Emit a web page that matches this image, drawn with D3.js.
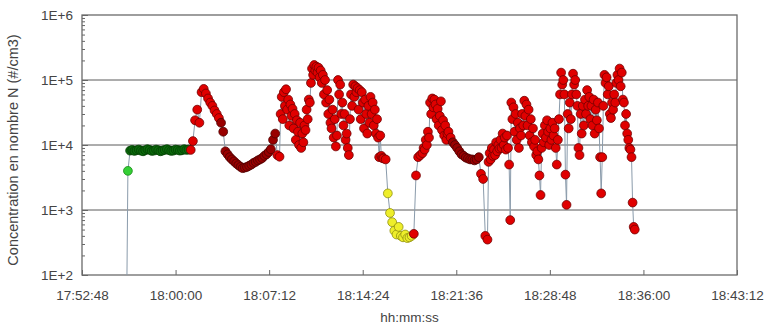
<!DOCTYPE html>
<html>
<head>
<meta charset="utf-8">
<script src="https://cdn.jsdelivr.net/npm/d3@7"></script>
<style>
  body { margin: 0; background: #fff; }
  text { font-family: Arial, "Liberation Sans", sans-serif; }
</style>
</head>
<body>
<svg></svg>
<script>
// Measurement times (hh:mm:ss); faster sampling during the busy stretches
const times = [
  "17:56:10","17:56:20","17:56:30","17:56:40","17:56:50",
  "17:57:00","17:57:10","17:57:20","17:57:30","17:57:40","17:57:50",
  "17:58:00","17:58:10","17:58:20","17:58:30","17:58:40","17:58:50",
  "17:59:00","17:59:10","17:59:20","17:59:30","17:59:40","17:59:50",
  "18:00:00","18:00:10","18:00:20","18:00:30","18:00:40","18:00:50",
  "18:01:00","18:01:10","18:01:20","18:01:30","18:01:40","18:01:50",
  "18:02:00","18:02:10","18:02:20","18:02:30","18:02:40","18:02:50",
  "18:03:00","18:03:10","18:03:20","18:03:30","18:03:40","18:03:50",
  "18:04:00","18:04:10","18:04:20","18:04:30","18:04:40","18:04:50",
  "18:05:00","18:05:10","18:05:20","18:05:30","18:05:40","18:05:50",
  "18:06:00","18:06:10","18:06:20","18:06:30","18:06:40","18:06:50",
  "18:07:00","18:07:10","18:07:20","18:07:30","18:07:40","18:07:50",
  "18:08:00","18:08:05","18:08:10","18:08:15","18:08:20","18:08:25","18:08:30","18:08:35","18:08:40","18:08:45","18:08:50","18:08:55",
  "18:09:00","18:09:05","18:09:10","18:09:15","18:09:20","18:09:25","18:09:30","18:09:35","18:09:40","18:09:45","18:09:50","18:09:55",
  "18:10:00","18:10:05","18:10:10","18:10:15","18:10:20","18:10:25","18:10:30","18:10:35","18:10:40","18:10:45","18:10:50","18:10:55",
  "18:11:00","18:11:05","18:11:10","18:11:15","18:11:20","18:11:25","18:11:30","18:11:35","18:11:40","18:11:45","18:11:50","18:11:55",
  "18:12:00","18:12:05","18:12:10","18:12:15","18:12:20","18:12:25","18:12:30","18:12:35","18:12:40","18:12:45","18:12:50","18:12:55",
  "18:13:00","18:13:05","18:13:10","18:13:15","18:13:20","18:13:25","18:13:30","18:13:35","18:13:40","18:13:45","18:13:50","18:13:55",
  "18:14:00","18:14:05","18:14:10","18:14:15","18:14:20","18:14:25","18:14:30","18:14:35","18:14:40","18:14:45","18:14:50","18:14:55",
  "18:15:00","18:15:05","18:15:10","18:15:15","18:15:20","18:15:25","18:15:30","18:15:35","18:15:40","18:15:45","18:15:50","18:15:55",
  "18:16:00","18:16:10","18:16:20","18:16:30","18:16:40","18:16:50",
  "18:17:00","18:17:10","18:17:20","18:17:30","18:17:40","18:17:50",
  "18:18:00","18:18:10","18:18:20","18:18:30","18:18:40","18:18:50",
  "18:19:00","18:19:05","18:19:10","18:19:15","18:19:20","18:19:25","18:19:30","18:19:35","18:19:40","18:19:45","18:19:50","18:19:55",
  "18:20:00","18:20:05","18:20:10","18:20:15","18:20:20","18:20:25","18:20:30","18:20:35","18:20:40","18:20:45","18:20:50","18:20:55",
  "18:21:00","18:21:10","18:21:20","18:21:30","18:21:40","18:21:50",
  "18:22:00","18:22:10","18:22:20","18:22:30","18:22:40","18:22:50",
  "18:23:00","18:23:10","18:23:20","18:23:30","18:23:40","18:23:50",
  "18:24:00","18:24:05","18:24:10","18:24:15","18:24:20","18:24:25","18:24:30","18:24:35","18:24:40","18:24:45","18:24:50","18:24:55",
  "18:25:00","18:25:05","18:25:10","18:25:15","18:25:20","18:25:25","18:25:30","18:25:35","18:25:40","18:25:45","18:25:50","18:25:55",
  "18:26:00","18:26:05","18:26:10","18:26:15","18:26:20","18:26:25","18:26:30","18:26:35","18:26:40","18:26:45","18:26:50","18:26:55",
  "18:27:00","18:27:05","18:27:10","18:27:15","18:27:20","18:27:25","18:27:30","18:27:35","18:27:40","18:27:45","18:27:50","18:27:55",
  "18:28:00","18:28:05","18:28:10","18:28:15","18:28:20","18:28:25","18:28:30","18:28:35","18:28:40","18:28:45","18:28:50","18:28:55",
  "18:29:00","18:29:05","18:29:10","18:29:15","18:29:20","18:29:25","18:29:30","18:29:35","18:29:40","18:29:45","18:29:50","18:29:55",
  "18:30:00","18:30:05","18:30:10","18:30:15","18:30:20","18:30:25","18:30:30","18:30:35","18:30:40","18:30:45","18:30:50","18:30:55",
  "18:31:00","18:31:05","18:31:10","18:31:15","18:31:20","18:31:25","18:31:30","18:31:35","18:31:40","18:31:45","18:31:50","18:31:55",
  "18:32:00","18:32:05","18:32:10","18:32:15","18:32:20","18:32:25","18:32:30","18:32:35","18:32:40","18:32:45","18:32:50","18:32:55",
  "18:33:00","18:33:05","18:33:10","18:33:15","18:33:20","18:33:25","18:33:30","18:33:35","18:33:40","18:33:45","18:33:50","18:33:55",
  "18:34:00","18:34:05","18:34:10","18:34:15","18:34:20","18:34:25","18:34:30","18:34:35","18:34:40","18:34:45","18:34:50","18:34:55",
  "18:35:00","18:35:05","18:35:10","18:35:15","18:35:20"
];

// Concentration N (#/cm3), same rows as the times above
const conc = [
  1, 4000, 8200, 8400, 8100,
  8300, 8500, 8200, 8000, 8300, 8600,
  8400, 8100, 8200, 8500, 8300, 8000,
  8200, 8400, 8600, 8300, 8100, 8200,
  8500, 8400, 8200, 8300, 8600, 8400,
  8500, 8400, 11500, 24000, 35000, 22000,
  65000, 73000, 62000, 52000, 45000, 40000,
  34000, 30000, 26000, 22000, 16000, 8000,
  7200, 6500, 6000, 5600, 5200, 4900,
  4600, 4400, 4500, 4600, 4800, 5000,
  5300, 5500, 5800, 6000, 6300, 6800,
  7200, 7800, 8600, 12000, 15000, 7000,
  6600, 30000, 55000, 25000, 65000, 40000, 72000, 35000, 50000, 20000, 42000, 28000,
  36000, 18000, 30000, 12000, 24000, 16000, 10000, 22000, 9000, 15000, 11000, 20000,
  17000, 35000, 25000, 50000, 45000, 90000, 150000, 120000, 170000, 140000, 160000, 130000,
  155000, 110000, 140000, 90000, 120000, 60000, 100000, 45000, 70000, 30000, 50000, 22000,
  18000, 35000, 13000, 25000, 9500, 14000, 100000, 60000, 85000, 30000, 45000, 20000,
  30000, 12000, 15000, 9000, 7000, 25000, 60000, 40000, 85000, 55000, 80000, 65000,
  75000, 35000, 70000, 25000, 65000, 45000, 18000, 50000, 30000, 15000, 40000, 22000,
  55000, 30000, 45000, 20000, 35000, 15000, 25000, 13000, 6500, 14000, 6800, 6300,
  6200, 6000, 1800, 900, 650, 480,
  420, 550, 400, 380, 420, 370,
  380, 400, 430, 3400, 6500, 7000,
  7500, 9000, 8500, 12000, 10000, 16000, 13000, 45000, 30000, 52000, 38000, 50000,
  42000, 25000, 36000, 20000, 28000, 47000, 17000, 24000, 14000, 20000, 12000, 15000,
  16000, 13000, 11000, 10000, 9000, 8000,
  7200, 6800, 6400, 6200, 6000, 6000,
  5800, 6000, 6500, 3600, 3000, 400,
  350, 5500, 7500, 6000, 9000, 6800, 8500, 7000, 11000, 8000, 10000, 8800,
  12000, 9000, 15000, 10000, 13000, 8500, 14000, 9000, 5000, 700, 45000, 25000,
  38000, 16000, 30000, 12000, 22000, 9000, 18000, 14000, 30000, 20000, 48000, 28000,
  42000, 20000, 35000, 14000, 25000, 11000, 18000, 9500, 12000, 7000, 8000, 6000,
  3400, 1700, 9000, 15000, 11000, 20000, 13000, 24000, 16000, 10000, 18000, 12000,
  22000, 14000, 18000, 9000, 5000, 12000, 25000, 60000, 130000, 85000, 100000, 60000,
  3500, 1200, 30000, 18000, 45000, 25000, 60000, 125000, 85000, 100000, 60000, 40000,
  9000, 7000, 30000, 15000, 40000, 20000, 50000, 30000, 70000, 40000, 55000, 25000,
  40000, 20000, 50000, 15000, 35000, 24000, 45000, 18000, 6500, 1800, 6500, 40000,
  120000, 90000, 110000, 60000, 80000, 30000, 26000, 45000, 35000, 60000, 45000, 90000,
  120000, 100000, 150000, 80000, 130000, 50000, 45000, 20000, 30000, 15000, 12000, 9000,
  8500, 6500, 1300, 550, 500
];

// Marker category from a given time onwards
const phaseStart = ["17:56:10", "17:56:30", "18:01:10", "18:03:30", "18:07:50", "18:16:20", "18:18:20", "18:21:20", "18:23:30"];
const phaseName  = ["lime", "green", "red", "darkred", "red", "yellow", "red", "darkred", "red"];

const xTickLabels = ["17:52:48", "18:00:00", "18:07:12", "18:14:24", "18:21:36", "18:28:48", "18:36:00", "18:43:12"];
const yTickLabels = ["1E+2", "1E+3", "1E+4", "1E+5", "1E+6"];
const yTickValues = [1e2, 1e3, 1e4, 1e5, 1e6];

const fills   = { lime: "#35cf35", green: "#0b6b0b", red: "#e00000", darkred: "#990000", yellow: "#eeee2a" };
const strokes = { lime: "#178a17", green: "#043d04", red: "#700000", darkred: "#4d0000", yellow: "#8f8f10" };

const W = 770, H = 325;
const margin = { top: 15, right: 33, bottom: 50, left: 82 };
const width = W - margin.left - margin.right,
      height = H - margin.top - margin.bottom;

const parse = d3.timeParse("%H:%M:%S");
const phaseTimes = phaseStart.map(parse);

const data = times.map((t, i) => {
  const time = parse(t);
  let k = d3.bisectRight(phaseTimes, time) - 1;
  return { time: time, value: conc[i], phase: phaseName[Math.max(k, 0)] };
});

const svg = d3.select("svg")
    .attr("width", W)
    .attr("height", H)
  .append("g")
    .attr("transform", `translate(${margin.left},${margin.top})`);

const x = d3.scaleTime()
    .domain([parse(xTickLabels[0]), parse(xTickLabels[xTickLabels.length - 1])])
    .range([0, width]);

const y = d3.scaleLog()
    .domain([1e2, 1e6])
    .range([height, 0]);

svg.append("defs").append("clipPath").attr("id", "plot")
  .append("rect").attr("width", width).attr("height", height);

// Gridlines
svg.append("g")
  .selectAll("line")
  .data(yTickValues.slice(1, -1))
  .join("line")
    .attr("x1", 0).attr("x2", width)
    .attr("y1", d => y(d)).attr("y2", d => y(d))
    .attr("stroke", "#5a5a5a")
    .attr("stroke-width", 1);

// Y axis, ticks pointing inside
const yAxis = svg.append("g")
  .call(d3.axisLeft(y)
    .tickValues(y.ticks())
    .tickSizeInner(-3)
    .tickSizeOuter(0)
    .tickPadding(9)
    .tickFormat(d => {
      const k = yTickValues.indexOf(d);
      return k >= 0 ? yTickLabels[k] : "";
    }));
yAxis.selectAll(".tick line")
  .attr("x2", d => yTickValues.indexOf(d) >= 0 ? 6 : 3)
  .attr("stroke", "#666");

// X axis
const xAxis = svg.append("g")
  .attr("transform", `translate(0,${height})`)
  .call(d3.axisBottom(x)
    .tickValues(xTickLabels.map(parse))
    .tickSizeInner(-5)
    .tickSizeOuter(0)
    .tickPadding(15)
    .tickFormat((d, i) => xTickLabels[i]));
xAxis.selectAll(".tick line").attr("stroke", "#666");

[yAxis, xAxis].forEach(a => {
  a.select(".domain").remove();
  a.selectAll("text").attr("font-size", 13.5).attr("fill", "#444");
});

// Frame
svg.append("rect")
  .attr("width", width)
  .attr("height", height)
  .attr("fill", "none")
  .attr("stroke", "#6a6a6a")
  .attr("stroke-width", 1.3);

// Series
const plot = svg.append("g").attr("clip-path", "url(#plot)");

plot.append("path")
  .datum(data)
  .attr("fill", "none")
  .attr("stroke", "#8a9bab")
  .attr("stroke-width", 1)
  .attr("d", d3.line().x(d => x(d.time)).y(d => y(d.value)));

plot.selectAll("circle")
  .data(data)
  .join("circle")
    .attr("cx", d => x(d.time))
    .attr("cy", d => y(d.value))
    .attr("r", 4.4)
    .attr("fill", d => fills[d.phase])
    .attr("stroke", d => strokes[d.phase])
    .attr("stroke-width", 0.8);

// Axis titles
svg.append("text")
  .attr("x", width / 2)
  .attr("y", height + 47)
  .attr("text-anchor", "middle")
  .attr("font-size", 13.5)
  .attr("fill", "#444")
  .text("hh:mm:ss");

svg.append("text")
  .attr("transform", `translate(${-margin.left + 18},${height / 2 + 5}) rotate(-90)`)
  .attr("text-anchor", "middle")
  .attr("font-size", 14.5)
  .attr("fill", "#444")
  .text("Concentration en nombre N (#/cm3)");
</script>
</body>
</html>
